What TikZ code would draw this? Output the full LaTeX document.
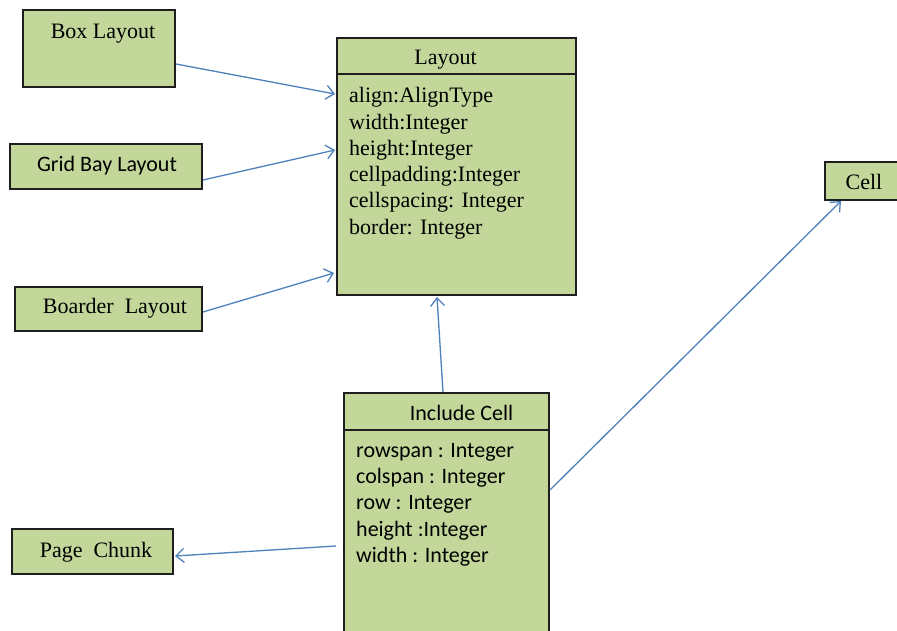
\documentclass[tikz,border=0pt]{standalone}
\usepackage{fontspec}
\setmainfont{Liberation Serif}
\newfontfamily\calibri{Carlito}
\usetikzlibrary{arrows.meta}
\definecolor{boxfill}{RGB}{196,215,155}
\definecolor{linkblue}{RGB}{79,129,189}
\definecolor{edgeink}{RGB}{30,30,30}
\begin{document}
\begin{tikzpicture}[x=1pt,y=-1pt,
  box/.style={draw=edgeink,fill=boxfill,line width=2pt,rectangle,inner sep=0pt},
  link/.style={draw=linkblue,line width=1.3pt,
    -{Straight Barb[length=8pt,width=14pt,line width=1.3pt]}},
  serif/.style={font=\fontsize{22}{26}\selectfont,anchor=base,inner sep=0pt},
  sans/.style={font=\calibri\fontsize{22}{26}\selectfont,anchor=base,inner sep=0pt},
  attrserif/.style={serif,anchor=base west},
  attrsans/.style={sans,anchor=base west}]
\clip (0,0) rectangle (897,631);
\fill[white] (0,0) rectangle (897,631);

% class boxes
\node[box,minimum width=152pt,minimum height=77pt] (boxl) at (99,48.5) {};
\node[box,minimum width=192pt,minimum height=45pt] (grid) at (106,166.5) {};
\node[box,minimum width=187pt,minimum height=44pt] (boar) at (108.5,309) {};
\node[box,minimum width=239pt,minimum height=257pt] (lay) at (456.5,166.5) {};
\node[box,minimum width=85pt,minimum height=38pt] (cell) at (867.5,181) {};
\node[box,minimum width=205pt,minimum height=257pt] (inc) at (446.5,521.5) {};
\node[box,minimum width=161pt,minimum height=45pt] (page) at (92.5,551.5) {};

% compartment separators
\draw[edgeink,line width=2pt] ([yshift=-37pt]lay.north west) -- ([yshift=-37pt]lay.north east);
\draw[edgeink,line width=2pt] ([yshift=-38pt]inc.north west) -- ([yshift=-38pt]inc.north east);

% titles
\node[serif] (tboxl) at (103,38.3) {Box Layout};
\node[sans] (tgrid) at (107,171.7) {Grid Bay Layout};
\node[serif] (tboar) at (115,313.5) {Boarder\ \ Layout};
\node[serif] (tlay) at (445.5,64.5) {Layout};
\node[serif] (tcell) at (864,189.5) {Cell};
\node[sans] (tinc) at (461.5,420) {Include Cell};
\node[serif] (tpage) at (96,557) {Page\ \ Chunk};

% Layout attributes
\node[attrserif] (la1) at (349,102.8) {align:AlignType};
\node[attrserif] (la2) at (349,129.1) {width:Integer};
\node[attrserif] (la3) at (349,155.4) {height:Integer};
\node[attrserif] (la4) at (349,181.7) {cellpadding:Integer};
\node[attrserif] (la5) at (349,208.0) {cellspacing: Integer};
\node[attrserif] (la6) at (349,234.2) {border: Integer};

% Include Cell attributes
\node[attrsans] (ia1) at (356,457.7) {rowspan : Integer};
\node[attrsans] (ia2) at (356,483.8) {colspan : Integer};
\node[attrsans] (ia3) at (356,509.9) {row : Integer};
\node[attrsans] (ia4) at (356,536.0) {height :Integer};
\node[attrsans] (ia5) at (356,562.1) {width : Integer};

% associations
\draw[link] ([yshift=-15.5pt]boxl.east) -- ([xshift=-1pt,yshift=72.5pt]lay.west);
\draw[link] ([yshift=-13.5pt]grid.east) -- ([xshift=-1pt,yshift=16.5pt]lay.west);
\draw[link] ([yshift=-3pt]boar.east) -- ([xshift=-2pt,yshift=-106.5pt]lay.west);
\draw[link] ([xshift=-3.5pt]inc.north) -- ([xshift=-19.5pt,yshift=-1pt]lay.south);
\draw[link] ([yshift=31.5pt]inc.east) -- ([xshift=17pt]cell.south west);
\draw[link] ([xshift=-7pt,yshift=-24.5pt]inc.west) -- ([xshift=1pt,yshift=-4.5pt]page.east);
\end{tikzpicture}
\end{document}
